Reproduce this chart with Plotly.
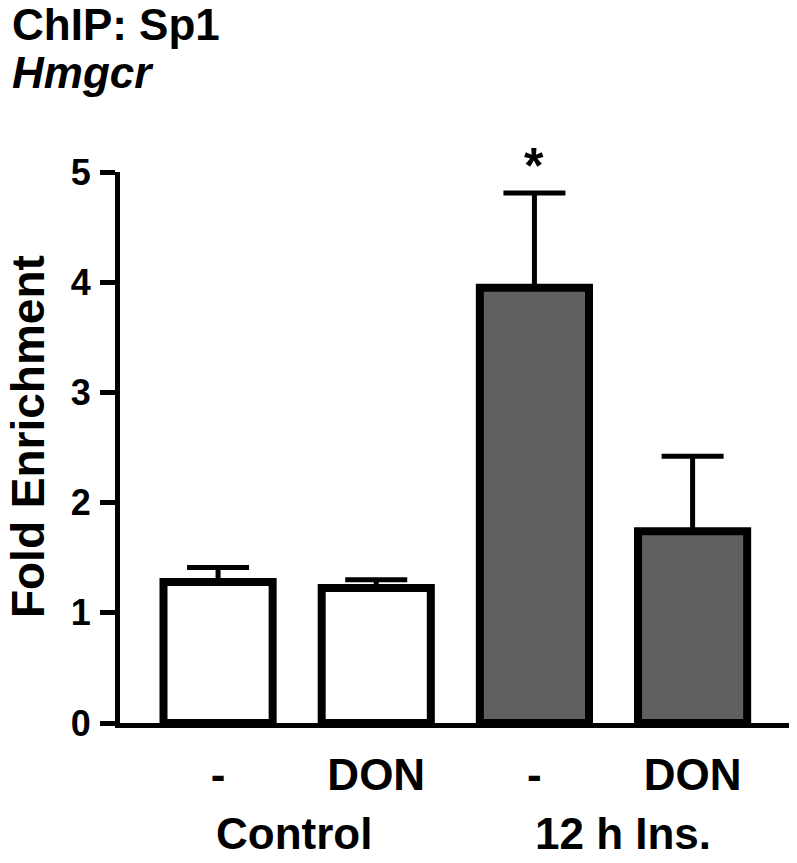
import plotly.graph_objects as go

# data
positions = [0, 1, 2, 3]
treatments = ["-", "DON", "-", "DON"]
fold_enrichment = [1.28, 1.225, 3.95, 1.74]
sem_upper = [0.13, 0.075, 0.86, 0.68]
bar_colors = ["white", "white", "#606060", "#606060"]
groups = ["Control", "12 h Ins."]
group_centers = [0.48, 2.56]
y_ticks = [0, 1, 2, 3, 4, 5]

FONT = "Liberation Sans, Arial, sans-serif"


def bold(size):
    return dict(family=FONT, size=size, color="black", weight="bold")


fig = go.Figure()
fig.add_trace(go.Bar(
    x=positions,
    y=fold_enrichment,
    width=0.69,
    marker=dict(color=bar_colors, line=dict(color="black", width=8)),
    error_y=dict(
        type="data", array=sem_upper, arrayminus=[0] * len(sem_upper),
        symmetric=False, color="black", thickness=5, width=31,
    ),
    showlegend=False,
))

# significance star over the insulin bar
fig.add_annotation(
    x=positions[2], y=fold_enrichment[2] + sem_upper[2], yshift=27,
    text="*", showarrow=False, font=bold(50),
)

for name, cx in zip(groups, group_centers):
    fig.add_annotation(
        x=cx, y=0, yref="y", yanchor="middle", yshift=-110,
        text=name, showarrow=False, font=bold(44),
    )

# titles, top-left of the page
fig.add_annotation(
    x=-0.162, y=1.268, xref="paper", yref="paper", xanchor="left", yanchor="middle",
    text="ChIP: Sp1", showarrow=False, font=bold(44),
)
fig.add_annotation(
    x=-0.162, y=1.180, xref="paper", yref="paper", xanchor="left", yanchor="middle",
    text="<i>Hmgcr</i>", showarrow=False, font=bold(44),
)
fig.add_annotation(
    x=-0.135, y=0.52, xref="paper", yref="paper", xanchor="center", yanchor="middle",
    text="Fold Enrichment", textangle=-90, showarrow=False, font=bold(46),
)

# the page body adds an 8 px offset, so the figure is 8 px smaller than the window
fig.update_layout(
    template="none",
    width=789, height=855,
    margin=dict(l=112, r=0, t=164, b=140),
    plot_bgcolor="white", paper_bgcolor="white",
    xaxis=dict(
        range=[-0.62, 3.66], automargin=False,
        tickvals=positions, ticktext=treatments,
        ticks="", showline=True, linecolor="black", linewidth=5,
        showgrid=False, zeroline=False,
        tickfont=bold(44), ticklabelstandoff=9,
    ),
    yaxis=dict(
        range=[0, 5], tickvals=y_ticks, automargin=False,
        ticks="outside", ticklen=15, tickwidth=5, tickcolor="black",
        showline=True, linecolor="black", linewidth=5,
        showgrid=False, zeroline=False,
        tickfont=bold(36), ticklabelstandoff=2,
    ),
)

fig.write_html("out.html")
